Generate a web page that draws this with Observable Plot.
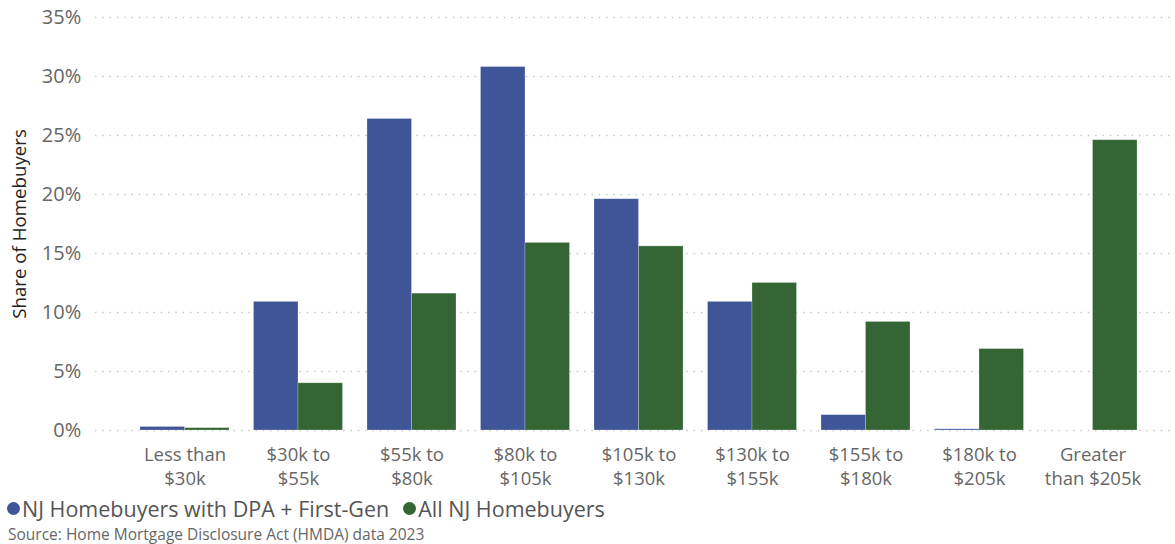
<!DOCTYPE html>
<html>
<head>
<meta charset="utf-8">
<script src="https://cdn.jsdelivr.net/npm/d3@7"></script>
<script src="https://cdn.jsdelivr.net/npm/@observablehq/plot@0.6"></script>
<style>
  body { margin: 0; background: #fff; font-family: "Open Sans", sans-serif; }
  #legend { display: flex; align-items: center; height: 26px; margin-top: 5px; padding-left: 7px; font-size: 21.5px; color: #555; }
  .item { display: flex; align-items: center; margin-right: 14px; }
  .dot { width: 13px; height: 13px; border-radius: 50%; margin-right: 2px; }
  #source { font-size: 15.5px; color: #666; padding-left: 8px; margin-top: 3px; line-height: 20px; }
</style>
</head>
<body>
<div id="chart"></div>
<div id="legend"></div>
<div id="source">Source: Home Mortgage Disclosure Act (HMDA) data 2023</div>
<script>
const categories = ["Less than $30k", "$30k to $55k", "$55k to $80k", "$80k to $105k", "$105k to $130k", "$130k to $155k", "$155k to $180k", "$180k to $205k", "Greater than $205k"];
const tickLabels = ["Less than\n$30k", "$30k to\n$55k", "$55k to\n$80k", "$80k to\n$105k", "$105k to\n$130k", "$130k to\n$155k", "$155k to\n$180k", "$180k to\n$205k", "Greater\nthan $205k"];
const series = ["NJ Homebuyers with DPA + First-Gen", "All NJ Homebuyers"];
const dpaFirstGen = [0.3, 10.9, 26.4, 30.8, 19.6, 10.9, 1.3, 0.1, 0];
const allHomebuyers = [0.2, 4.0, 11.6, 15.9, 15.6, 12.5, 9.2, 6.9, 24.6];
const colors = ["#3F5597", "#356534"];
const yTicks = [0, 5, 10, 15, 20, 25, 30, 35];
const yLabel = "Share of Homebuyers";

const data = [];
categories.forEach((c, i) => {
  data.push({category: c, series: series[0], value: dpaFirstGen[i]});
  data.push({category: c, series: series[1], value: allHomebuyers[i]});
});

const layout = {width: 1175, height: 490, marginLeft: 95, marginRight: 3, marginTop: 17, marginBottom: 60};

// full-width dotted gridlines (frame margins), positioned vertically with the plot's own y scale
function gridRender(index, scales, values, dimensions) {
  const g = d3.create("svg:g");
  for (const t of yTicks) {
    const y = Math.round(scales.y(t)) + 0.5;
    g.append("line")
      .attr("x1", layout.marginLeft).attr("x2", layout.width - layout.marginRight)
      .attr("y1", y).attr("y2", y)
      .attr("stroke", "#c8c8c8").attr("stroke-width", 1.5)
      .attr("stroke-dasharray", "1.5,5.8");
  }
  return g.node();
}

const chart = Plot.plot({
  ...layout,
  style: {fontFamily: "'Open Sans', sans-serif", fontSize: "16px", color: "#666", background: "#fff"},
  fx: {domain: categories, paddingInner: 0, paddingOuter: 0.2445, align: 0.59, round: false, label: null},
  x: {domain: series, paddingInner: 0, paddingOuter: 0.275, round: false, axis: null},
  y: {domain: [0, 35], axis: null},
  color: {domain: series, range: colors},
  marks: [
    Plot.frame({facet: "super", stroke: "none", render: gridRender}),
    Plot.barY(data, {fx: "category", x: "series", y: "value", fill: "series", stroke: "#fff", strokeOpacity: 0.35, strokeWidth: 0.7}),
    Plot.axisY({ticks: yTicks, tickSize: 0, tickPadding: 47, tickFormat: d => d + "%", label: null, fontSize: 20}),
    Plot.text([yLabel], {facet: "super", frameAnchor: "left", textAnchor: "middle", rotate: -90, dx: -108, fill: "#252423", fontSize: 18.7}),
    Plot.axisFx({anchor: "bottom", tickSize: 0, tickPadding: 13, lineHeight: 1.3, fontSize: 18.5, label: null,
      tickFormat: d => tickLabels[categories.indexOf(d)]})
  ]
});
document.getElementById("chart").appendChild(chart);

const legend = document.getElementById("legend");
series.forEach((s, i) => {
  const item = document.createElement("div");
  item.className = "item";
  item.innerHTML = `<span class="dot" style="background:${colors[i]}"></span><span>${s}</span>`;
  legend.appendChild(item);
});
</script>
</body>
</html>
